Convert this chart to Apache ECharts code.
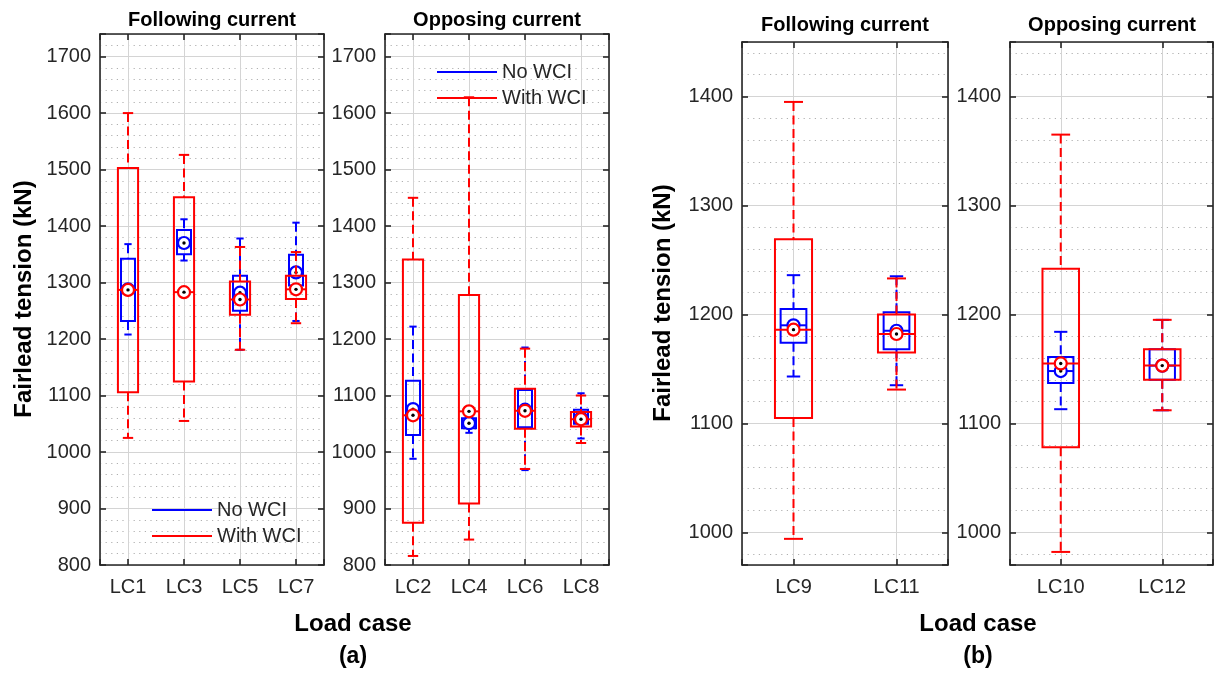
<!DOCTYPE html>
<html>
<head>
<meta charset="utf-8">
<script src="https://cdn.jsdelivr.net/npm/echarts@6/dist/echarts.min.js"></script>
<style>
  html, body { margin: 0; padding: 0; background: #ffffff; }
  #chart { width: 1216px; height: 674px; }
</style>
</head>
<body>
<div id="chart"></div>
<script>
// Load cases shown in each panel
const casesFollowA = ['LC1', 'LC3', 'LC5', 'LC7'];
const casesOpposeA = ['LC2', 'LC4', 'LC6', 'LC8'];
const casesFollowB = ['LC9', 'LC11'];
const casesOpposeB = ['LC10', 'LC12'];

// Fairlead tension statistics (kN): [lower whisker, Q1, median, Q3, upper whisker]
const noWciFollowA = [
  [1208, 1232, 1288, 1342, 1368],
  [1339, 1350, 1370, 1393, 1412],
  [1181, 1250, 1282, 1312, 1378],
  [1232, 1295, 1318, 1349, 1406]
];
const withWciFollowA = [
  [1025, 1106, 1287, 1503, 1600],
  [1055, 1125, 1283, 1451, 1526],
  [1181, 1243, 1270, 1302, 1363],
  [1228, 1271, 1288, 1312, 1354]
];
const noWciOpposeA = [
  [988, 1030, 1076, 1126, 1222],
  [1034, 1042, 1051, 1060, 1068],
  [968, 1044, 1075, 1110, 1185],
  [1024, 1050, 1060, 1075, 1104]
];
const withWciOpposeA = [
  [816, 875, 1065, 1341, 1450],
  [845, 909, 1072, 1278, 1628],
  [970, 1041, 1073, 1112, 1183],
  [1016, 1045, 1058, 1071, 1100]
];
const noWciFollowB = [
  [1143, 1174, 1190, 1205, 1236],
  [1135, 1168, 1185, 1202, 1235]
];
const withWciFollowB = [
  [994, 1105, 1186, 1269, 1395],
  [1131, 1165, 1182, 1200, 1233]
];
const noWciOpposeB = [
  [1113, 1137, 1148, 1161, 1184],
  [1112, 1140, 1153, 1168, 1195]
];
const withWciOpposeB = [
  [982, 1078, 1155, 1242, 1365],
  [1112, 1140, 1153, 1168, 1195]
];

// Axis ranges and tick steps (kN)
const yRangeA = [800, 1740];
const yRangeB = [970, 1450];
const majorStep = 100;
const minorStep = 20;

const seriesNames = ['No WCI', 'With WCI'];
const panelTitles = ['Following current', 'Opposing current', 'Following current', 'Opposing current'];
const yTitle = 'Fairlead tension (kN)';
const xTitle = 'Load case';
const subLabels = ['(a)', '(b)'];

const FONT = "'Liberation Sans', Arial, Helvetica, sans-serif";
const INK = '#262626';
const BLUE = '#0000ff';
const RED = '#ff0000';
const GRID_MAJOR = '#d4d4d4';
const GRID_MINOR = '#b0b0b0';

const panels = [
  { rect: { left: 100, top: 34, width: 224, height: 531 }, cats: casesFollowA, range: yRangeA, blue: noWciFollowA, red: withWciFollowA },
  { rect: { left: 385, top: 34, width: 224, height: 531 }, cats: casesOpposeA, range: yRangeA, blue: noWciOpposeA, red: withWciOpposeA },
  { rect: { left: 742, top: 42, width: 206, height: 523 }, cats: casesFollowB, range: yRangeB, blue: noWciFollowB, red: withWciFollowB },
  { rect: { left: 1010, top: 42, width: 204, height: 523 }, cats: casesOpposeB, range: yRangeB, blue: noWciOpposeB, red: withWciOpposeB }
];

// Box-and-whisker glyph: dashed whiskers, solid caps, open box, median line and circle marker
function makeBoxRenderer(color, boxFrac, capFrac) {
  return function (params, api) {
    const x = api.value(0);
    const pts = [1, 2, 3, 4, 5].map(function (i) { return api.coord([x, api.value(i)]); });
    const band = api.size([1, 0])[0];
    const half = band * boxFrac / 2;
    const capHalf = band * capFrac / 2;
    const cx = pts[0][0];
    const lw = 2;
    const solid = { stroke: color, lineWidth: lw, fill: 'none' };
    const dashed = { stroke: color, lineWidth: lw, lineDash: [9, 4.5], fill: 'none' };
    const yLo = pts[0][1], yQ1 = pts[1][1], yMed = pts[2][1], yQ3 = pts[3][1], yHi = pts[4][1];
    return {
      type: 'group',
      children: [
        { type: 'line', shape: { x1: cx, y1: yHi, x2: cx, y2: yQ3 }, style: dashed },
        { type: 'line', shape: { x1: cx, y1: yQ1, x2: cx, y2: yLo }, style: dashed },
        { type: 'line', shape: { x1: cx - capHalf, y1: yHi, x2: cx + capHalf, y2: yHi }, style: solid },
        { type: 'line', shape: { x1: cx - capHalf, y1: yLo, x2: cx + capHalf, y2: yLo }, style: solid },
        { type: 'rect', shape: { x: cx - half, y: yQ3, width: half * 2, height: yQ1 - yQ3 }, style: solid },
        { type: 'line', shape: { x1: cx - half, y1: yMed, x2: cx + half, y2: yMed }, style: solid },
        { type: 'circle', shape: { cx: cx, cy: yMed, r: 6 }, style: { stroke: color, lineWidth: 2.2, fill: '#ffffff' } },
        { type: 'circle', shape: { cx: cx, cy: yMed, r: 1.7 }, style: { fill: '#000000' } }
      ]
    };
  };
}

const axisLineStyle = { color: INK, width: 1.6 };

const grids = [];
const xAxes = [];
const yAxes = [];
const series = [];

panels.forEach(function (p, g) {
  grids.push(Object.assign({ containLabel: false }, p.rect));
  const n = p.cats.length;
  const xBase = { type: 'value', gridIndex: g, min: 0.5, max: n + 0.5, minInterval: 1, maxInterval: 1, z: 1 };
  xAxes.push(Object.assign({}, xBase, {
    position: 'bottom',
    axisLine: { show: true, onZero: false, lineStyle: axisLineStyle },
    axisTick: { show: true, inside: true, length: 6, lineStyle: axisLineStyle },
    axisLabel: {
      show: true, fontSize: 20, color: INK, fontFamily: FONT, margin: 12,
      formatter: function (v) { return Number.isInteger(v) ? p.cats[v - 1] : ''; }
    },
    splitLine: { show: true, lineStyle: { color: GRID_MAJOR, width: 1 } }
  }));
  xAxes.push(Object.assign({}, xBase, {
    position: 'top',
    axisLine: { show: true, onZero: false, lineStyle: axisLineStyle },
    axisTick: { show: true, inside: true, length: 6, lineStyle: axisLineStyle },
    axisLabel: { show: false },
    splitLine: { show: false }
  }));
  const yBase = { type: 'value', gridIndex: g, min: p.range[0], max: p.range[1] };
  // minor dotted grid
  yAxes.push(Object.assign({}, yBase, {
    position: 'left', z: 0, minInterval: minorStep, maxInterval: minorStep,
    axisLine: { show: false }, axisTick: { show: false }, axisLabel: { show: false },
    splitLine: { show: true, lineStyle: { color: GRID_MINOR, width: 1, type: [1.2, 4.4] } }
  }));
  // major axis with labels
  yAxes.push(Object.assign({}, yBase, {
    position: 'left', z: 1, minInterval: majorStep, maxInterval: majorStep,
    axisLine: { show: true, onZero: false, lineStyle: axisLineStyle },
    axisTick: { show: true, inside: true, length: 6, lineStyle: axisLineStyle },
    axisLabel: {
      show: true, fontSize: 20, color: INK, fontFamily: FONT, margin: 9,
      formatter: function (v) { return v % majorStep === 0 ? String(v) : ''; }
    },
    splitLine: { show: true, lineStyle: { color: GRID_MAJOR, width: 1 } }
  }));
  // right-hand frame
  yAxes.push(Object.assign({}, yBase, {
    position: 'right', z: 1, minInterval: majorStep, maxInterval: majorStep,
    axisLine: { show: true, onZero: false, lineStyle: axisLineStyle },
    axisTick: { show: true, inside: true, length: 6, lineStyle: axisLineStyle },
    axisLabel: { show: false },
    splitLine: { show: false }
  }));

  const toData = function (rows) {
    return rows.map(function (r, i) { return [i + 1].concat(r); });
  };
  [[seriesNames[0], BLUE, p.blue, 0.25, 0.13, 2], [seriesNames[1], RED, p.red, 0.36, 0.185, 3]].forEach(function (s) {
    series.push({
      type: 'custom',
      name: s[0],
      xAxisIndex: g * 2,
      yAxisIndex: g * 3 + 1,
      data: toData(s[2]),
      encode: { x: 0, y: [1, 2, 3, 4, 5] },
      renderItem: makeBoxRenderer(s[1], s[3], s[4]),
      itemStyle: { color: s[1] },
      z: s[5],
      silent: true,
      clip: false
    });
  });
});

const legendCommon = {
  data: seriesNames,
  orient: 'vertical',
  icon: 'rect',
  itemWidth: 60,
  itemHeight: 2,
  itemGap: 6,
  itemTextGap: 5,
  selectedMode: false,
  textStyle: { fontSize: 20, color: INK, fontFamily: FONT, lineHeight: 20 }
};

function label(text, x, y, size, extra) {
  return Object.assign({
    type: 'text', x: x, y: y, silent: true,
    style: { text: text, fontSize: size, fontWeight: 'bold', fontFamily: FONT, fill: '#000000', align: 'center', verticalAlign: 'middle' }
  }, extra || {});
}

const graphics = [
  label(panelTitles[0], 212, 20, 20),
  label(panelTitles[1], 497, 20, 20),
  label(panelTitles[2], 845, 25, 20),
  label(panelTitles[3], 1112, 25, 20),
  label(yTitle, 24, 299, 24, { rotation: Math.PI / 2 }),
  label(yTitle, 663, 303, 24, { rotation: Math.PI / 2 }),
  label(xTitle, 353, 624, 24),
  label(xTitle, 978, 624, 24),
  label(subLabels[0], 353, 657, 23),
  label(subLabels[1], 978, 657, 23)
];

const chart = echarts.init(document.getElementById('chart'), null, { renderer: 'canvas' });
chart.setOption({
  animation: false,
  backgroundColor: '#ffffff',
  textStyle: { fontFamily: FONT },
  grid: grids,
  xAxis: xAxes,
  yAxis: yAxes,
  legend: [
    Object.assign({}, legendCommon, { left: 147, top: 495 }),
    Object.assign({}, legendCommon, { left: 432, top: 57 })
  ],
  graphic: graphics,
  series: series
});
</script>
</body>
</html>
